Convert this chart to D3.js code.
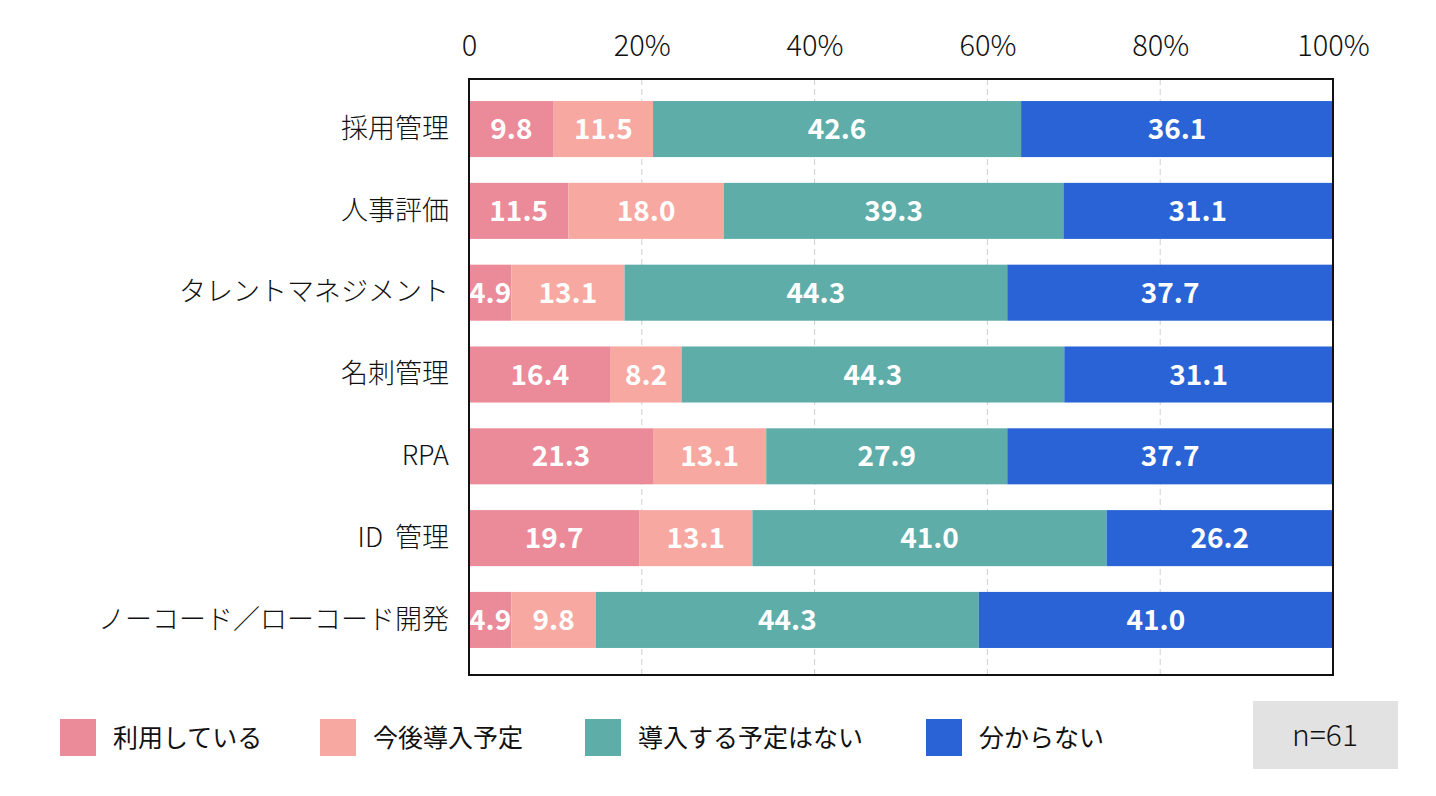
<!DOCTYPE html>
<html>
<head>
<meta charset="utf-8">
<script src="https://cdn.jsdelivr.net/npm/d3@7"></script>
<style>
  body { margin: 0; background: #fff; }
  svg text { font-family: "Noto Sans CJK JP", "Noto Sans", sans-serif; }
</style>
</head>
<body>
<svg id="chart" width="1436" height="796"></svg>
<script>
// data
var categories = ["採用管理", "人事評価", "タレントマネジメント", "名刺管理", "RPA", "ID  管理", "ノーコード／ローコード開発"];
var seriesNames = ["利用している", "今後導入予定", "導入する予定はない", "分からない"];
var using     = [9.8, 11.5, 4.9, 16.4, 21.3, 19.7, 4.9];
var planned   = [11.5, 18.0, 13.1, 8.2, 13.1, 13.1, 9.8];
var noPlan    = [42.6, 39.3, 44.3, 44.3, 27.9, 41.0, 44.3];
var unknown   = [36.1, 31.1, 37.7, 31.1, 37.7, 26.2, 41.0];
var tickValues = [0, 20, 40, 60, 80, 100];
var tickLabels = ["0", "20%", "40%", "60%", "80%", "100%"];
var sampleLabel = "n=61";

var colors = ["#eb8a98", "#f7a8a0", "#5eada9", "#2963d6"];

var svg = d3.select("#chart");
var plotLeft = 469, plotRight = 1333, plotTop = 79, plotBottom = 675;

var x = d3.scaleLinear().domain([0, 100]).range([plotLeft, plotRight]);
// bars sit a little higher than centred in the frame
var y = d3.scaleBand().domain(categories).range([76.5, 672.5]).paddingInner(0.315).paddingOuter(0.3);

// build stacked table
var rows = categories.map(function (c, i) {
  return { cat: c, s0: using[i], s1: planned[i], s2: noPlan[i], s3: unknown[i] };
});
var stack = d3.stack().keys(["s0", "s1", "s2", "s3"])(rows);

// grid lines
svg.append("g").selectAll("line")
  .data(tickValues.filter(function (d) { return d > 0 && d < 100; }))
  .enter().append("line")
  .attr("x1", function (d) { return x(d); })
  .attr("x2", function (d) { return x(d); })
  .attr("y1", plotTop).attr("y2", plotBottom)
  .attr("stroke", "#cfcfcf")
  .attr("stroke-width", 1)
  .attr("stroke-dasharray", "6,4");

// bars
var layer = svg.append("g").selectAll("g")
  .data(stack).enter().append("g")
  .attr("fill", function (d, i) { return colors[i]; });

layer.selectAll("rect")
  .data(function (d) { return d; })
  .enter().append("rect")
  .attr("x", function (d) { return x(d[0]); })
  .attr("width", function (d) { return x(d[1]) - x(d[0]); })
  .attr("y", function (d) { return y(d.data.cat); })
  .attr("height", y.bandwidth());

// value labels
layer.selectAll("text")
  .data(function (d) { return d; })
  .enter().append("text")
  .attr("x", function (d) { return (x(d[0]) + x(d[1])) / 2; })
  .attr("y", function (d) { return y(d.data.cat) + y.bandwidth() / 2; })
  .attr("dy", "0.36em")
  .attr("text-anchor", "middle")
  .attr("fill", "#fff")
  .style("font-size", "28px")
  .style("font-weight", "700")
  .text(function (d) { return (d[1] - d[0]).toFixed(1); });

// frame
svg.append("rect")
  .attr("x", plotLeft).attr("y", plotTop)
  .attr("width", plotRight - plotLeft).attr("height", plotBottom - plotTop)
  .attr("fill", "none").attr("stroke", "#111").attr("stroke-width", 2);

// top axis
var xAxis = d3.axisTop(x).tickValues(tickValues).tickSize(0)
  .tickFormat(function (d, i) { return tickLabels[i]; });
var gx = svg.append("g").attr("transform", "translate(0,56)").call(xAxis);
gx.select(".domain").remove();
gx.selectAll("text")
  .attr("dy", 0).attr("y", 0)
  .attr("fill", "#111")
  .style("font-size", "29px")
  .style("font-weight", "300");

// category axis
var yAxis = d3.axisLeft(y).tickSize(0).tickPadding(20);
var gy = svg.append("g").attr("transform", "translate(" + plotLeft + ",0)").call(yAxis);
gy.select(".domain").remove();
gy.selectAll("text")
  .attr("fill", "#111")
  .style("font-size", "27px")
  .style("font-weight", "300")
  .style("white-space", "pre");

// legend
var legendX = [60, 320, 585, 926];
var legend = svg.append("g").selectAll("g")
  .data(seriesNames).enter().append("g")
  .attr("transform", function (d, i) { return "translate(" + legendX[i] + ",719)"; });
legend.append("rect")
  .attr("width", 36).attr("height", 37)
  .attr("fill", function (d, i) { return colors[i]; });
legend.append("text")
  .attr("x", 53).attr("y", 19).attr("dy", "0.36em")
  .attr("fill", "#111")
  .style("font-size", "25px")
  .style("font-weight", "400")
  .text(function (d) { return d; });

// sample size box
svg.append("rect")
  .attr("x", 1253).attr("y", 701).attr("width", 145).attr("height", 68)
  .attr("fill", "#e2e2e2");
svg.append("text")
  .attr("x", 1325).attr("y", 735).attr("dy", "0.36em")
  .attr("text-anchor", "middle")
  .attr("fill", "#111")
  .style("font-size", "30px")
  .style("font-weight", "300")
  .text(sampleLabel);
</script>
</body>
</html>
